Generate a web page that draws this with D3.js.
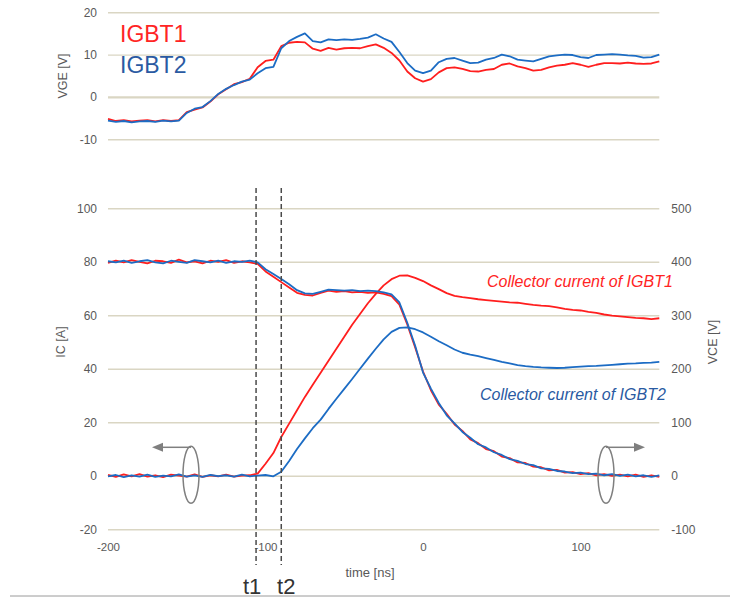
<!DOCTYPE html>
<html>
<head>
<meta charset="utf-8">
<script src="https://cdn.jsdelivr.net/npm/d3@7"></script>
<style>
  body { margin: 0; background: #fff; }
  svg { display: block; font-family: "Liberation Sans", Arial, sans-serif; }
</style>
</head>
<body>
<div id="chart"></div>
<script>
// sample times [ns], 5 ns apart
const timeNs = [
  -200, -195, -190, -185, -180, -175, -170, -165, -160, -155,
  -150, -145, -140, -135, -130, -125, -120, -115, -110, -105,
  -100, -95, -90, -85, -80, -75, -70, -65, -60, -55,
  -50, -45, -40, -35, -30, -25, -20, -15, -10, -5,
  0, 5, 10, 15, 20, 25, 30, 35, 40, 45,
  50, 55, 60, 65, 70, 75, 80, 85, 90, 95,
  100, 105, 110, 115, 120, 125, 130, 135, 140, 145, 150
];

// gate voltage [V]
const vgeIgbt1 = [
  -5.2, -5.7, -5.5, -5.8, -5.6, -5.5, -5.8, -5.5, -5.7, -5.5,
  -3.6, -3.0, -2.5, -1.1, 0.6, 1.8, 3.0, 3.5, 4.3, 7.0,
  8.5, 8.8, 12.0, 12.8, 13.0, 12.9, 11.4, 10.9, 11.6, 11.2,
  11.5, 11.6, 11.5, 12.0, 12.4, 11.6, 10.4, 8.6, 6.0, 4.4,
  3.6, 4.2, 5.8, 6.8, 7.0, 6.6, 6.1, 6.0, 6.4, 6.6,
  7.6, 7.9, 7.2, 6.8, 6.2, 6.4, 7.0, 7.4, 7.6, 8.0,
  7.6, 7.1, 7.6, 8.0, 8.0, 7.9, 8.1, 7.9, 7.8, 7.9, 8.4
];
const vgeIgbt2 = [
  -5.6, -5.9, -5.7, -6.0, -5.8, -5.7, -5.9, -5.6, -5.8, -5.6,
  -3.8, -2.8, -2.4, -1.0, 0.7, 1.9, 2.8, 3.6, 4.1, 5.6,
  6.8, 7.1, 11.5, 13.2, 14.2, 15.0, 13.2, 12.9, 13.6, 13.4,
  13.6, 13.5, 13.7, 14.0, 14.8, 13.8, 13.0, 10.6, 8.0, 6.2,
  5.6, 6.2, 8.2, 9.0, 9.2, 8.6, 8.0, 8.1, 8.8, 9.2,
  10.0, 9.6, 8.8, 8.6, 8.4, 9.0, 9.6, 9.8, 10.0, 9.9,
  9.4, 9.2, 9.9, 10.0, 10.1, 10.0, 9.8, 9.7, 9.3, 9.4, 10.0
];

// collector current [A]
const icIgbt1 = [
  0.3, -0.4, 0.5, -0.2, 0.6, -0.3, 0.2, -0.5, 0.4, 0.1,
  -0.3, 0.5, -0.4, 0.2, -0.2, 0.4, -0.3, 0.1, 0.2, 0.8,
  4.5, 8.5, 14.5, 19.5, 24.5, 29.5, 34.0, 38.5, 43.0, 47.5,
  52.0, 56.5, 60.5, 64.5, 68.0, 71.2, 73.5, 74.8, 74.9, 74.0,
  72.8, 71.2, 69.8, 68.3, 67.3, 66.8, 66.4, 66.0, 65.7, 65.4,
  65.1, 64.8, 64.7, 64.3, 63.9, 63.6, 63.4, 63.0, 62.4, 62.0,
  61.8, 61.3, 60.9, 60.3, 59.9, 59.6, 59.3, 59.0, 58.9, 58.6, 58.9
];
const icIgbt2 = [
  -0.2, 0.3, -0.5, 0.2, -0.3, 0.4, -0.4, 0.1, -0.2, 0.5,
  -0.3, 0.2, -0.4, 0.3, -0.1, 0.2, -0.3, 0.4, -0.2, 0.1,
  0.3, -0.2, 1.5, 5.5, 10.0, 14.0, 17.8, 21.0, 25.0, 28.8,
  32.5, 36.2, 40.0, 43.8, 47.5, 51.0, 53.8, 55.3, 55.5, 54.8,
  53.6, 52.0, 50.3, 48.8, 47.2, 46.0, 45.3, 44.7, 44.0, 43.3,
  42.6, 42.0, 41.4, 41.0, 40.7, 40.5, 40.4, 40.3, 40.4, 40.6,
  40.8, 41.0, 41.1, 41.3, 41.5, 41.7, 41.9, 42.0, 42.2, 42.3, 42.6
];

// collector-emitter voltage [V]
const vceIgbt1 = [
  398, 402, 399, 403, 400, 397, 402, 401, 398, 404,
  399, 401, 397, 402, 400, 403, 398, 401, 399, 396,
  382, 372, 362, 352, 342, 338, 337, 342, 346, 344,
  345, 343, 344, 342, 343, 340, 336, 320, 283, 240,
  195, 160, 133, 116, 96, 84, 68, 61, 50, 46,
  36, 33, 25, 24, 17, 16, 10, 11, 6, 7,
  3, 5, 1, 3, 0, 2, -1, 2, -2, 1, -2
];
const vceIgbt2 = [
  401, 399, 402, 398, 401, 403, 399, 397, 402, 400,
  398, 403, 401, 399, 402, 398, 401, 400, 402, 399,
  386, 377, 368, 358, 347, 341, 340, 344, 348, 347,
  346, 347, 345, 346, 345, 343, 339, 324, 286, 243,
  193, 163, 136, 113, 98, 82, 71, 59, 53, 44,
  39, 31, 28, 22, 20, 14, 13, 9, 8, 5,
  6, 3, 4, 1, 3, 0, 2, -1, 1, -2, 1
];

const vgeTicks = [-10, 0, 10, 20];
const icTicks = [-20, 0, 20, 40, 60, 80, 100];
const vceTicks = [-100, 0, 100, 200, 300, 400, 500];
const timeTicks = [-200, -100, 0, 100];
const markers = [{ label: 't1', t: -106 }, { label: 't2', t: -90 }];

const RED = '#ff1e1e', BLUE = '#1c6cc4';
const GRID = '#dad6c3', TXT = '#595959';
const plain = d => String(d); // keep the plain hyphen minus

const svg = d3.select('#chart').append('svg')
  .attr('width', 730)
  .attr('height', 601);

const x = d3.scaleLinear().domain([-200, 150]).range([108, 659.3]);
const yVge = d3.scaleLinear().domain([-10, 20]).range([139.2, 12.3]);
const yIc = d3.scaleLinear().domain([-20, 100]).range([529.3, 208.3]);
const yVce = d3.scaleLinear().domain([-100, 500]).range([529.3, 208.3]);
const gridW = x.range()[1] - x.range()[0];

function styleAxis(g, zeroBold) {
  g.select('.domain').remove();
  g.selectAll('.tick line')
    .attr('stroke', GRID)
    .attr('stroke-width', d => (zeroBold && d === 0) ? 2.2 : 1.4);
  g.selectAll('.tick text')
    .attr('fill', TXT)
    .style('font-size', '12px');
}

// ---- top panel (VGE)
svg.append('g')
  .attr('transform', `translate(${x.range()[0]},0)`)
  .call(d3.axisLeft(yVge).tickValues(vgeTicks).tickFormat(plain).tickSize(-gridW).tickPadding(11))
  .call(g => styleAxis(g, true));

svg.append('text')
  .attr('transform', 'translate(67,76) rotate(-90)')
  .attr('text-anchor', 'middle')
  .attr('fill', TXT)
  .style('font-size', '12.5px')
  .text('VGE [V]');

const vgeLine = d3.line()
  .x((d, i) => x(timeNs[i]))
  .y(d => yVge(d));

svg.append('path').datum(vgeIgbt1)
  .attr('d', vgeLine).attr('fill', 'none')
  .attr('stroke', RED).attr('stroke-width', 1.8).attr('stroke-linejoin', 'round');
svg.append('path').datum(vgeIgbt2)
  .attr('d', vgeLine).attr('fill', 'none')
  .attr('stroke', BLUE).attr('stroke-width', 1.8).attr('stroke-linejoin', 'round');

svg.append('text')
  .attr('x', 120).attr('y', 42)
  .attr('fill', '#ff2424')
  .style('font-size', '23px')
  .text('IGBT1');
svg.append('text')
  .attr('x', 120).attr('y', 73)
  .attr('fill', '#2a5aa2')
  .style('font-size', '23px')
  .text('IGBT2');

// ---- bottom panel (IC / VCE)
svg.append('g')
  .attr('transform', `translate(${x.range()[0]},0)`)
  .call(d3.axisLeft(yIc).tickValues(icTicks).tickFormat(plain).tickSize(-gridW).tickPadding(11))
  .call(g => styleAxis(g, false));

svg.append('g')
  .attr('transform', `translate(${x.range()[1]},0)`)
  .call(d3.axisRight(yVce).tickValues(vceTicks).tickFormat(plain).tickSize(0).tickPadding(12))
  .call(g => styleAxis(g, false));

svg.append('g')
  .attr('transform', `translate(0,${yIc(-20)})`)
  .call(d3.axisBottom(x).tickValues(timeTicks).tickFormat(plain).tickSize(0).tickPadding(13.5))
  .call(g => styleAxis(g, false))
  .call(g => g.selectAll('.tick text').style('font-size', '11.5px'));

svg.append('text')
  .attr('transform', 'translate(65,342) rotate(-90)')
  .attr('text-anchor', 'middle')
  .attr('fill', TXT)
  .style('font-size', '12.5px')
  .text('IC [A]');

svg.append('text')
  .attr('transform', 'translate(717,342) rotate(-90)')
  .attr('text-anchor', 'middle')
  .attr('fill', TXT)
  .style('font-size', '12.5px')
  .text('VCE [V]');

svg.append('text')
  .attr('x', 370).attr('y', 577)
  .attr('text-anchor', 'middle')
  .attr('fill', TXT)
  .style('font-size', '13px')
  .text('time [ns]');

const icLine = d3.line().x((d, i) => x(timeNs[i])).y(d => yIc(d));
const vceLine = d3.line().x((d, i) => x(timeNs[i])).y(d => yVce(d));

[[vceIgbt1, vceLine, RED], [icIgbt1, icLine, RED],
 [vceIgbt2, vceLine, BLUE], [icIgbt2, icLine, BLUE]].forEach(([data, line, color]) => {
  svg.append('path').datum(data)
    .attr('d', line).attr('fill', 'none')
    .attr('stroke', color).attr('stroke-width', 1.8).attr('stroke-linejoin', 'round');
});

svg.append('text')
  .attr('x', 487).attr('y', 287)
  .attr('fill', '#ff2424')
  .style('font-size', '16px').style('font-style', 'italic')
  .text('Collector current of IGBT1');
svg.append('text')
  .attr('x', 480).attr('y', 400)
  .attr('fill', '#2a5aa2')
  .style('font-size', '16px').style('font-style', 'italic')
  .text('Collector current of IGBT2');

// t1 / t2 markers
markers.forEach((m, i) => {
  svg.append('line')
    .attr('x1', x(m.t)).attr('x2', x(m.t))
    .attr('y1', 188).attr('y2', 565)
    .attr('stroke', '#4a4a4a').attr('stroke-width', 1.5)
    .attr('stroke-dasharray', '5,3');
  svg.append('text')
    .attr('x', x(m.t) + (i === 0 ? -4 : 5)).attr('y', 594)
    .attr('text-anchor', 'middle')
    .attr('fill', '#333')
    .style('font-size', '22px')
    .text(m.label);
});

// axis ownership marks: ellipse + arrow
const MARK = '#7f7f7f';
function ownership(cx, dir) {
  const cy = yIc(0) - 1, ry = 28.5, top = cy - ry + 1;
  svg.append('ellipse')
    .attr('cx', cx).attr('cy', cy).attr('rx', 8).attr('ry', ry)
    .attr('fill', 'none').attr('stroke', MARK).attr('stroke-width', 1.5);
  const tip = cx + dir * 39;
  svg.append('line')
    .attr('x1', cx).attr('x2', tip - dir * 9)
    .attr('y1', top).attr('y2', top)
    .attr('stroke', MARK).attr('stroke-width', 1.5);
  svg.append('path')
    .attr('d', `M${tip},${top} L${tip - dir * 11},${top - 4.5} L${tip - dir * 11},${top + 4.5} Z`)
    .attr('fill', MARK);
}
ownership(191, -1);
ownership(606, 1);

// rule at the bottom
svg.append('line')
  .attr('x1', 10).attr('x2', 730)
  .attr('y1', 596).attr('y2', 596)
  .attr('stroke', '#9a9a9a').attr('stroke-width', 1);
</script>
</body>
</html>
